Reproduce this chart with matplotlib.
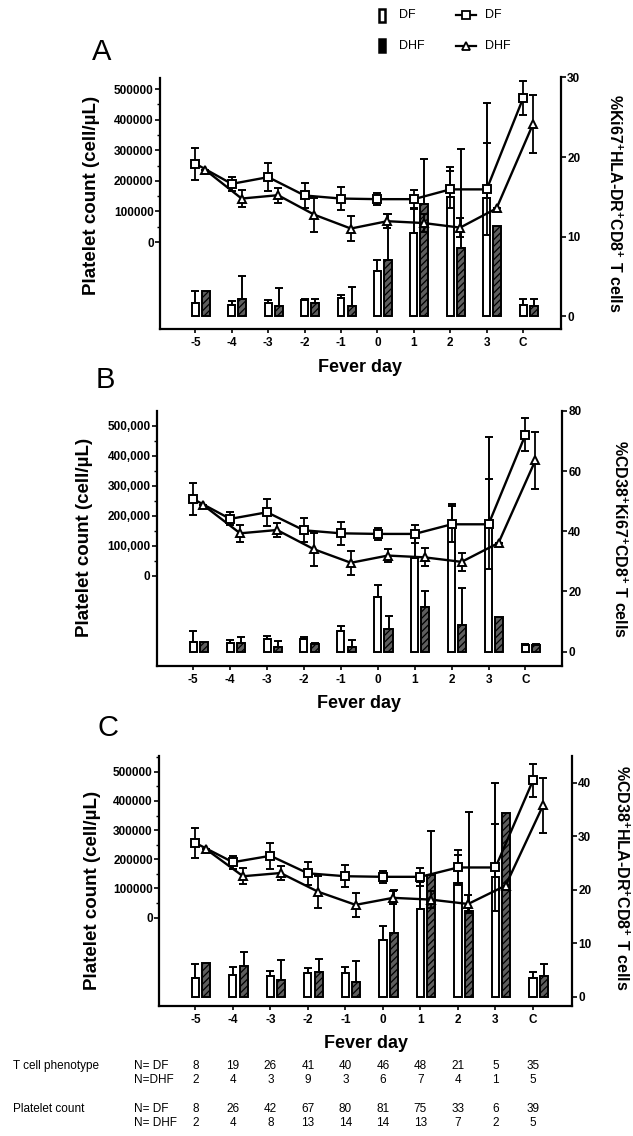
import matplotlib
matplotlib.use("Agg")
import matplotlib.pyplot as plt
import numpy as np
from matplotlib.ticker import FixedLocator, FuncFormatter
from matplotlib.patches import Rectangle
from matplotlib.lines import Line2D
from matplotlib.transforms import blended_transform_factory

plt.rcParams['font.family'] = ['Liberation Sans', 'DejaVu Sans']
plt.rcParams['mathtext.fontset'] = 'custom'
plt.rcParams['mathtext.rm'] = 'Liberation Sans'
plt.rcParams['mathtext.bf'] = 'Liberation Sans:bold'
plt.rcParams['mathtext.default'] = 'bf'
plt.rcParams['hatch.linewidth'] = 0.9

# ---------- Data ----------
days = ['-5', '-4', '-3', '-2', '-1', '0', '1', '2', '3', 'C']

# platelet count (cell/uL), mean and error, same in every panel
plt_df = [256000, 190000, 212000, 152000, 142000, 140000, 140000, 172000, 172000, 470000]
plt_df_err = [52000, 22000, 45000, 40000, 38000, 20000, 30000, 60000, 150000, 55000]
plt_dhf = [236000, 142000, 153000, 89000, 44000, 68000, 62000, 47000, 110000, 385000]
plt_dhf_err = [0, 28000, 24000, 55000, 40000, 22000, 30000, 30000, 0, 95000]

# %Ki67+HLA-DR+ CD8+ T cells
ki_hla_df = [1.7, 1.4, 1.6, 2.0, 2.3, 5.7, 10.4, 15.0, 14.8, 1.4]
ki_hla_df_err = [1.4, 0.5, 0.4, 0.2, 0.35, 1.3, 3.0, 3.8, 12.0, 0.7]
ki_hla_dhf = [3.1, 2.2, 1.2, 1.7, 1.2, 7.0, 14.1, 8.5, 11.3, 1.2]
ki_hla_dhf_err = [0, 2.8, 2.3, 0.4, 2.5, 5.8, 5.7, 12.5, 0, 0.9]

# %CD38+Ki67+ CD8+ T cells
cd38_ki_df = [3.3, 2.8, 4.1, 4.1, 7.0, 18.3, 31.0, 42.5, 42.5, 2.1]
cd38_ki_df_err = [3.7, 1.1, 1.1, 0.7, 1.6, 3.9, 8.0, 6.5, 28.7, 0.3]
cd38_ki_dhf = [3.3, 2.8, 1.7, 2.5, 1.7, 7.5, 14.7, 8.9, 11.5, 2.1]
cd38_ki_dhf_err = [0, 2.2, 1.9, 0.3, 2.2, 4.5, 5.6, 12.4, 0, 0.3]

# %CD38+HLA-DR+ CD8+ T cells
cd38_hla_df = [3.45, 4.1, 3.8, 4.4, 4.5, 10.7, 16.4, 21.3, 22.3, 3.6]
cd38_hla_df_err = [2.6, 1.4, 0.95, 0.9, 1.0, 2.5, 5.0, 5.2, 17.6, 1.1]
cd38_hla_dhf = [6.4, 5.75, 3.1, 4.6, 2.8, 11.9, 22.8, 16.1, 34.3, 3.8]
cd38_hla_dhf_err = [0, 2.6, 3.7, 2.4, 3.9, 8.0, 8.1, 18.5, 0, 2.3]

# number of subjects per fever day
tcell_n_df = [8, 19, 26, 41, 40, 46, 48, 21, 5, 35]
tcell_n_dhf = [2, 4, 3, 9, 3, 6, 7, 4, 1, 5]
plt_n_df = [8, 26, 42, 67, 80, 81, 75, 33, 6, 39]
plt_n_dhf = [2, 4, 8, 13, 14, 14, 13, 7, 2, 5]

W, H = 633, 1136
fig = plt.figure(figsize=(W / 100, H / 100), dpi=100)


def fig_rect(left, top, right, bottom):
    return [left / W, 1 - bottom / H, (right - left) / W, (bottom - top) / H]


def bar_err(ax, x, vals, err):
    vals = np.asarray(vals, float)
    err = np.asarray(err, float)
    keep = err > 0
    ax.errorbar(x[keep], vals[keep], yerr=[np.zeros(keep.sum()), err[keep]],
                fmt='none', ecolor='black', elinewidth=1.4, capsize=2.6, capthick=1.4)


def draw_panel(box, xlim, left_lim, right_lim, right_ticks, df_vals, df_err,
               dhf_vals, dhf_err, right_label, comma, letter, letter_xy,
               left_lab_xy, right_lab_xy):
    ax = fig.add_axes(fig_rect(*box))
    ax2 = ax.twinx()
    ax.set_zorder(ax2.get_zorder() + 1)
    ax.patch.set_visible(False)
    x = np.arange(len(days))

    # T cell bars (right axis)
    ax2.bar(x, df_vals, width=0.19, color='white', edgecolor='black', linewidth=1.4)
    bar_err(ax2, x, df_vals, df_err)
    ax2.bar(x + 0.29, dhf_vals, width=0.22, color='#5e5e5e', edgecolor='black',
            hatch='/////', linewidth=1.4)
    bar_err(ax2, x + 0.29, dhf_vals, dhf_err)

    # platelet lines (left axis)
    ax.errorbar(x, plt_df, yerr=plt_df_err, color='black', lw=1.7, marker='s', ms=5.5,
                mfc='white', mec='black', mew=1.4, capsize=2.6, elinewidth=1.3, capthick=1.3)
    ax.errorbar(x + 0.27, plt_dhf, yerr=plt_dhf_err, color='black', lw=1.7, marker='^',
                ms=6, mfc='white', mec='black', mew=1.4, capsize=2.6, elinewidth=1.3,
                capthick=1.3)

    ax.set_xlim(*xlim)
    ax.set_ylim(*left_lim)
    ax2.set_ylim(*right_lim)

    for s in ['top', 'right']:
        ax.spines[s].set_visible(False)
    for s in ['top', 'left', 'bottom']:
        ax2.spines[s].set_visible(False)
    for sp in [ax.spines['left'], ax.spines['bottom'], ax2.spines['right']]:
        sp.set_linewidth(1.6)

    ax.set_xticks(x)
    ax.set_xticklabels(days, fontsize=8.5, fontweight='bold')
    ax.tick_params(axis='x', length=3, width=1.2, pad=3)

    ax.yaxis.set_major_locator(FixedLocator(np.arange(0, 500001, 100000)))
    ax.yaxis.set_minor_locator(FixedLocator(np.arange(50000, 550001, 100000)))
    fmt = (lambda v, p: f'{int(v):,}') if comma else (lambda v, p: f'{int(v)}')
    ax.yaxis.set_major_formatter(FuncFormatter(fmt))
    ax.tick_params(axis='y', which='major', length=3.5, width=1.2, pad=1, labelsize=8.5)
    ax.tick_params(axis='y', which='minor', length=2, width=1.0)
    for t in ax.get_yticklabels():
        t.set_fontweight('bold')

    ax2.set_yticks(right_ticks)
    ax2.tick_params(axis='y', length=3.5, width=1.2, pad=1, labelsize=8.5)
    for t in ax2.get_yticklabels():
        t.set_fontweight('bold')

    ax.set_ylabel('Platelet count (cell/\u00b5L)', fontsize=13.5, fontweight='bold')
    ax.yaxis.set_label_coords(*left_lab_xy)
    ax.yaxis.label.set_va('center')
    ax2.set_ylabel(right_label, fontsize=11.5, fontweight='bold', rotation=270)
    ax2.yaxis.set_label_coords(*right_lab_xy)
    ax2.yaxis.label.set_va('center')

    ax.set_xlabel('Fever day', fontsize=13, fontweight='bold')
    ax.xaxis.set_label_coords(0.5, -38 / (box[3] - box[1]))
    ax.xaxis.label.set_va('center')

    fig.text(letter_xy[0] / W, 1 - letter_xy[1] / H, letter, fontsize=21,
             ha='center', va='center')
    return ax


draw_panel((160, 77.5, 561, 329), (-0.97, 10.04), (-284300, 537600), (-1.63, 30),
           [0, 10, 20, 30], ki_hla_df, ki_hla_df_err, ki_hla_dhf, ki_hla_dhf_err,
           r'%Ki67$^{+}$HLA-DR$^{+}$CD8$^{+}$ T cells', False, 'A', (102, 52),
           (-0.17, 0.53), (1.135, 0.50))

draw_panel((156.7, 411, 562, 666), (-0.99, 9.99), (-299400, 548900), (-4.77, 80),
           [0, 20, 40, 60, 80], cd38_ki_df, cd38_ki_df_err, cd38_ki_dhf, cd38_ki_dhf_err,
           r'%CD38$^{+}$Ki67$^{+}$CD8$^{+}$ T cells', True, 'B', (105, 380),
           (-0.177, 0.506), (1.143, 0.50))

ax_c = draw_panel((159, 755.7, 572, 1005.5), (-0.97, 10.04), (-300700, 554800), (-1.63, 45.07),
                  [0, 10, 20, 30, 40], cd38_hla_df, cd38_hla_df_err, cd38_hla_dhf,
                  cd38_hla_dhf_err, r'%CD38$^{+}$HLA-DR$^{+}$CD8$^{+}$ T cells', False, 'C',
                  (108, 728), (-0.162, 0.46), (1.12, 0.51))

# ---------- key at the top ----------
key = fig.add_axes([0, 0, 1, 1])
key.set_xlim(0, W)
key.set_ylim(H, 0)
key.axis('off')
key.add_patch(Rectangle((379, 9), 6, 13, facecolor='white', edgecolor='black', lw=1.8))
key.add_patch(Rectangle((379, 39), 6, 13, facecolor='black', edgecolor='black', lw=1.8))
key.add_line(Line2D([456, 466, 476], [46, 46, 46], color='black', lw=1.6, marker='^',
                    ms=6, mfc='white', mew=1.3, markevery=[1]))
key.add_line(Line2D([456, 466, 476], [15, 15, 15], color='black', lw=1.6, marker='s',
                    ms=5.5, mfc='white', mew=1.3, markevery=[1]))
for y, lab in [(15, 'DF'), (46, 'DHF')]:
    key.text(399, y, lab, fontsize=9, va='center', ha='left')
    key.text(485, y, lab, fontsize=9, va='center', ha='left')

# ---------- subject numbers under panel C ----------
tr = blended_transform_factory(ax_c.transData, fig.transFigure)
rows = [
    (1066, 'T cell phenotype', 'N= DF', tcell_n_df),
    (1080, None, 'N=DHF', tcell_n_dhf),
    (1109, 'Platelet count', 'N= DF', plt_n_df),
    (1123, None, 'N= DHF', plt_n_dhf),
]
for y, group, lab, vals in rows:
    yf = 1 - y / H
    if group:
        fig.text(13 / W, yf, group, fontsize=8.5, va='center', ha='left')
    fig.text(134 / W, yf, lab, fontsize=8.5, va='center', ha='left')
    for i, v in enumerate(vals):
        fig.text(i, yf, str(v), transform=tr, fontsize=8.5, va='center', ha='center')

fig.savefig('out.png', dpi=100)
